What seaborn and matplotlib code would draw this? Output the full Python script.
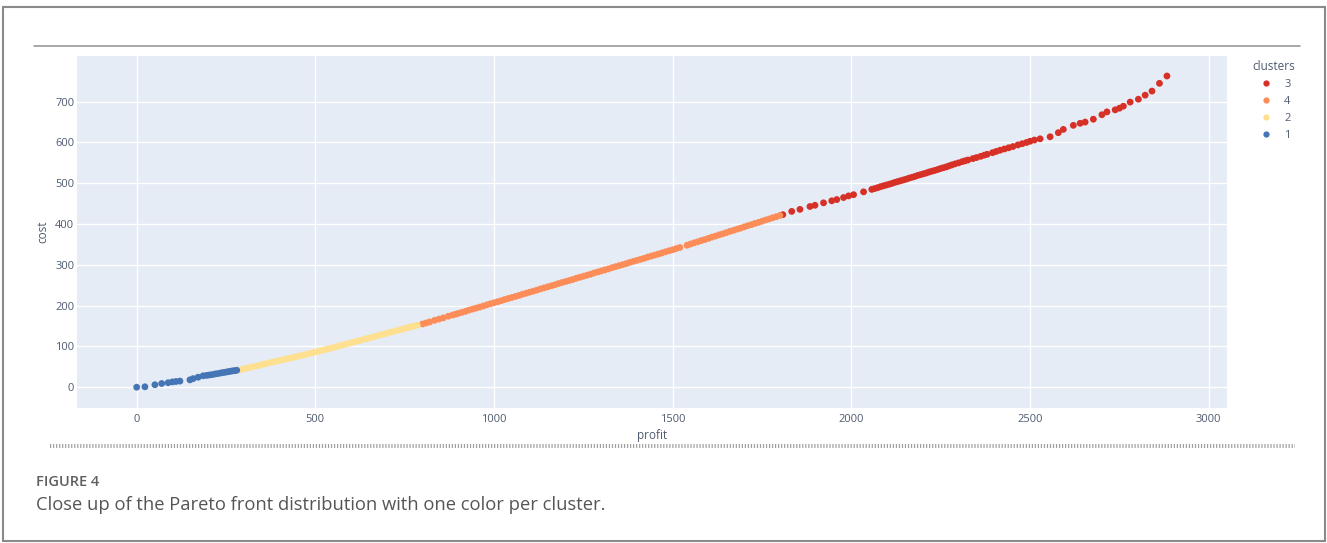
import matplotlib
matplotlib.use("Agg")
import matplotlib.pyplot as plt
from matplotlib.lines import Line2D
from matplotlib.patches import Rectangle
import seaborn as sns
import pandas as pd

# Pareto front solutions, grouped by cluster label
profit_c3 = [1808, 1833, 1856, 1884, 1898, 1922, 1945, 1959, 1978, 1992, 2006, 2034, 2057,
             2065, 2073, 2081, 2089, 2097, 2105, 2113, 2121, 2129, 2137, 2145, 2153, 2161,
             2169, 2177, 2185, 2193, 2201, 2209, 2217, 2225, 2233, 2241, 2249, 2257, 2265,
             2273, 2281, 2290, 2300, 2310, 2318, 2326, 2340, 2350, 2362, 2372, 2380, 2395,
             2405, 2416, 2428, 2440, 2452, 2466, 2478, 2490, 2500, 2512, 2528, 2556, 2579,
             2593, 2621, 2640, 2654, 2677, 2701, 2715, 2738, 2750, 2761, 2780, 2803, 2822,
             2841, 2862, 2883]
cost_c3 = [423, 431, 436, 443, 446, 452, 457, 460, 465, 469, 472, 479, 485,
           487, 489, 491.5, 493.5, 495.5, 497.5, 499.5, 502, 504, 506, 508, 510, 512.5,
           514.5, 516.5, 519, 521, 523, 525, 527.5, 529.5, 531.5, 533.5, 536, 538, 540,
           542.5, 545, 547.5, 550, 553, 555, 557, 560.5, 563, 566, 569, 571, 575,
           578, 581, 584, 587, 590, 594, 597, 600, 603, 606, 609, 614, 624,
           632, 642, 647, 650, 657, 668, 675, 680, 684, 689, 699, 706, 716,
           726, 745, 763]

profit_c4 = [800, 810, 820, 834, 846, 858, 872, 884, 893, 900, 910, 920, 930, 940,
             950, 960, 970, 980, 990, 1000, 1010, 1020, 1030, 1040, 1050, 1060, 1070,
             1080, 1090, 1100, 1110, 1120, 1130, 1140, 1150, 1160, 1170, 1180, 1190, 1200,
             1210, 1220, 1230, 1240, 1250, 1260, 1270, 1280, 1290, 1300, 1310, 1320, 1330,
             1340, 1350, 1360, 1370, 1380, 1390, 1400, 1410, 1420, 1430, 1440, 1450, 1460,
             1470, 1480, 1490, 1500, 1510, 1520, 1540, 1550, 1560, 1570, 1580, 1590,
             1600, 1610, 1620, 1630, 1640, 1650, 1660, 1670, 1680, 1690, 1700, 1710, 1720,
             1730, 1740, 1750, 1760, 1770, 1780, 1790, 1800]
cost_c4 = [155, 157.5, 160, 164, 167, 170, 174, 177, 179, 181, 183.5, 186, 189,
           191.5, 194, 196.5, 199, 202, 204.5, 207, 209.5, 212, 215, 217.5, 220, 222.5,
           225, 228, 230.5, 233, 235.5, 238, 241, 243.5, 246, 248.5, 251, 254, 256.5, 259,
           261.5, 264, 267, 269.5, 272, 274.5, 277, 280, 282.5, 285, 287.5, 290, 293,
           295.5, 298, 300.5, 303, 306, 308.5, 311, 313.5, 316, 319, 321.5, 324, 326.5,
           329, 332, 334.5, 337, 340, 342.5, 348, 351, 354, 356.5, 359.5, 362,
           365, 368, 370.5, 373.5, 376, 379, 382, 384.5, 387.5, 390, 393, 396, 398.5,
           401.5, 404, 407, 410, 412.5, 415.5, 418, 421]

profit_c2 = [285, 295, 305, 315, 325, 335, 345, 355, 365, 375, 385, 395, 405, 415, 425,
             435, 445, 455, 465, 475, 485, 495, 505, 515, 525, 535, 545, 555, 565, 575,
             585, 595, 605, 615, 625, 635, 645, 655, 665, 675, 685, 695, 705, 715, 725,
             735, 745, 755, 765, 775, 785]
cost_c2 = [42, 44, 46, 48, 50, 52, 54, 56.5, 58.5, 60.5, 62.5, 64.5, 66.5, 68.5, 70.5,
           72.5, 74.5, 76.5, 78.5, 80.5, 83, 85, 87, 89.5, 91.5, 94, 96, 98.5, 101, 103,
           105.5, 107.5, 110, 112.5, 114.5, 117, 119.5, 121.5, 124, 126.5, 128.5, 131,
           133.5, 135.5, 138, 140.5, 142.5, 145, 147.5, 149.5, 152]

profit_c1 = [0, 23, 51, 70, 88, 100, 110, 121, 149, 158, 172, 186, 196, 204, 212, 220,
             228, 236, 243, 250, 256, 262, 268, 274, 280]
cost_c1 = [0, 1, 6, 9, 11, 13, 14, 15, 18, 21, 24.5, 28, 29, 30, 31, 32.5,
           33.5, 35, 36, 37, 38, 39, 40, 40.5, 41.5]

cluster_order = ["3", "4", "2", "1"]
cluster_colors = ["#d73027", "#fc8d59", "#fee090", "#4575b4"]

frames = []
for label, px, cy in [("3", profit_c3, cost_c3), ("4", profit_c4, cost_c4),
                      ("2", profit_c2, cost_c2), ("1", profit_c1, cost_c1)]:
    frames.append(pd.DataFrame({"profit": px, "cost": cy, "clusters": label}))
df = pd.concat(frames, ignore_index=True)

sns.set_theme(style="darkgrid")
plt.rcParams["font.family"] = ["Open Sans", "DejaVu Sans"]

W, H = 1327, 543
fig = plt.figure(figsize=(W / 100, H / 100), dpi=100)
fig.patch.set_facecolor("white")

ax = fig.add_axes([77 / W, 1 - 408 / H, (1227 - 77) / W, (408 - 56) / H])
ax.set_facecolor("#E5ECF6")

palette = dict(zip(cluster_order, cluster_colors))
sns.scatterplot(data=df, x="profit", y="cost", hue="clusters",
                hue_order=cluster_order, palette=palette, s=24,
                linewidth=0, ax=ax, legend=False, zorder=3)

ax.set_xlim(-167, 3051)
ax.set_ylim(-51, 812)
ax.set_xticks([0, 500, 1000, 1500, 2000, 2500, 3000])
ax.set_yticks([0, 100, 200, 300, 400, 500, 600, 700])
ax.grid(color="white", linewidth=1.0)
ax.set_axisbelow(True)
for sp in ax.spines.values():
    sp.set_visible(False)
tick_color = "#4f5b70"
ax.tick_params(axis="both", length=0, labelsize=8, labelcolor=tick_color)
ax.tick_params(axis="x", pad=4)
ax.tick_params(axis="y", pad=2)
ax.set_xlabel("")
ax.set_ylabel("")

fig.text(42.5 / W, 1 - 232 / H, "cost", rotation=90, ha="center", va="center",
         fontsize=8.5, color=tick_color)
fig.text(652 / W, 1 - 436 / H, "profit", ha="center", va="center",
         fontsize=8.5, color=tick_color)

# legend
handles = [Line2D([0], [0], marker="o", linestyle="", markersize=4.5,
                  markerfacecolor=c, markeredgewidth=0) for c in cluster_colors]
leg = ax.legend(handles, cluster_order, title="clusters", loc="upper left",
                bbox_to_anchor=(1252 / W, 1 - 60 / H), bbox_transform=fig.transFigure,
                frameon=False, fontsize=8, title_fontsize=8.5, borderpad=0,
                borderaxespad=0, handlelength=2.5, handletextpad=0.4,
                labelspacing=0.55)
leg._legend_box.align = "left"
leg._legend_box.sep = 4
for t in leg.get_texts():
    t.set_color(tick_color)
leg.get_title().set_color(tick_color)

# page decoration: frame, rule lines and caption
fig.add_artist(Rectangle((3 / W, 1 - 541 / H), (1325 - 3) / W, (541 - 7) / H,
                         transform=fig.transFigure, fill=False,
                         edgecolor="#8a8a8a", linewidth=1.5))
fig.add_artist(Line2D([34 / W, 1300 / W], [1 - 46 / H, 1 - 46 / H],
                      transform=fig.transFigure, color="#9a9a9a", linewidth=1.2))
fig.add_artist(Line2D([50 / W, 1295 / W], [1 - 446 / H, 1 - 446 / H],
                      transform=fig.transFigure, color="#a0a0a0", linewidth=2.9,
                      dashes=(0.3, 0.45), solid_capstyle="butt",
                      dash_capstyle="butt"))

fig.text(36 / W, 1 - 482 / H, "FIGURE 4", ha="left", va="center", fontsize=10.5,
         fontweight="semibold", color="#5f5f5f")
fig.text(36 / W, 1 - 505 / H,
         "Close up of the Pareto front distribution with one color per cluster.",
         ha="left", va="center", fontsize=13.2, color="#555555")

fig.savefig("out.png", dpi=100)
